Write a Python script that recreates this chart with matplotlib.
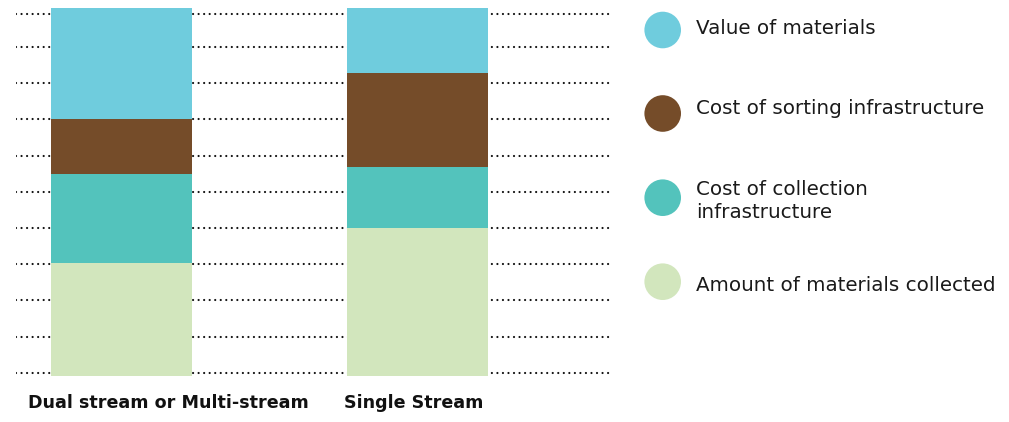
import matplotlib
matplotlib.use("Agg")
import matplotlib.pyplot as plt
from matplotlib.patches import Circle
from matplotlib.transforms import blended_transform_factory

# Stacked share of each factor (bottom to top), per collection system
categories = ["Dual stream or Multi-stream", "Single Stream"]
series_names = [
    "Amount of materials collected",
    "Cost of collection\ninfrastructure",
    "Cost of sorting infrastructure",
    "Value of materials",
]
amount_collected = [30.6, 40.2]
collection_cost = [24.2, 16.6]
sorting_cost = [15.0, 25.5]
material_value = [30.2, 17.7]
series_colors = ["#D2E6BD", "#53C3BC", "#754C29", "#6FCCDD"]

# Horizontal dotted guide levels
guide_levels = [0.8, 10.6, 20.5, 30.3, 40.1, 50.0, 59.8, 69.7, 79.5, 89.3, 98.4]

W, H, DPI = 1009, 422, 100
fig = plt.figure(figsize=(W / DPI, H / DPI), dpi=DPI)
fig.patch.set_facecolor("white")

font = ["DejaVu Sans"]

# Main plotting area
left_px, right_px = 16, 610
top_px, bottom_px = 8, 375.7
ax = fig.add_axes([left_px / W, (H - bottom_px) / H,
                   (right_px - left_px) / W, (bottom_px - top_px) / H])
ax.set_xlim(-0.3564, 1.650)
ax.set_ylim(0, 100)
ax.axis("off")

guides = ax.hlines(guide_levels, -0.3564, 1.650, colors="#111111",
                   linewidth=1.6, linestyles=(0, (0.01, 2.48)), zorder=1)
guides.set_capstyle("round")

x = list(range(len(categories)))
bar_w = 0.476
stack = [amount_collected, collection_cost, sorting_cost, material_value]
bottoms = [0.0] * len(categories)
for vals, col in zip(stack, series_colors):
    ax.bar(x, vals, width=bar_w, bottom=bottoms, color=col,
           edgecolor="none", zorder=2)
    bottoms = [b + v for b, v in zip(bottoms, vals)]

# Category captions, left aligned under the bars
trans = blended_transform_factory(ax.transData, fig.transFigure)
label_x = [-0.316, 0.7517]
for lx, name in zip(label_x, categories):
    ax.text(lx, (H - 408) / H, name, transform=trans, ha="left",
            va="baseline", fontsize=12.6, fontweight="bold", family=font,
            color="#111111")

# Legend drawn in pixel coordinates on an overlay
lg = fig.add_axes([0, 0, 1, 1], facecolor="none")
lg.set_xlim(0, W)
lg.set_ylim(H, 0)
lg.axis("off")
circle_y = [30, 113.5, 197.7, 281.7]
text_baseline = [34.3, 114.3, 195, 290.7]
line_step = 22.5
legend_items = list(zip(series_names, series_colors))[::-1]
for cy, by, (name, col) in zip(circle_y, text_baseline, legend_items):
    lg.add_patch(Circle((662.7, cy), 18.3, color=col, ec="none"))
    for i, line in enumerate(name.split("\n")):
        lg.text(696.5, by + i * line_step, line, ha="left", va="baseline",
                fontsize=14.3, family=font, color="#1a1a1a")

fig.savefig("out.png", dpi=DPI, facecolor="white")
